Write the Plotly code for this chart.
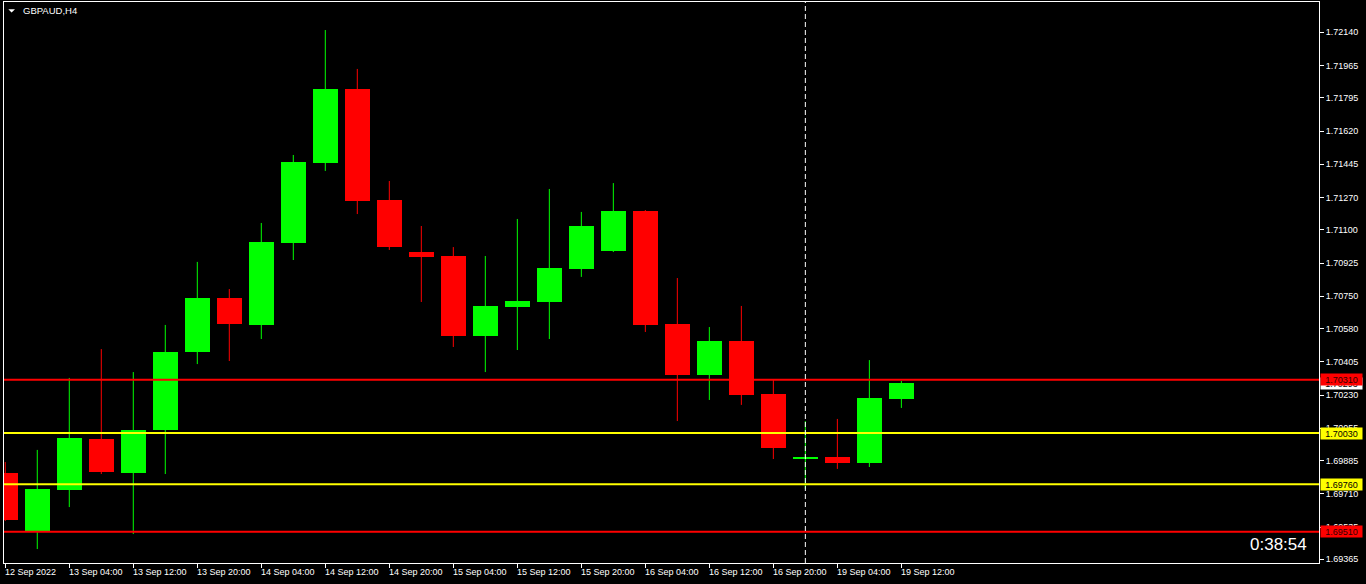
import plotly.graph_objects as go

# ---- data (GBPAUD, H4) ----
bar_idx = list(range(29))
open_ = [1.69819, 1.69514, 1.69730, 1.69998, 1.69819, 1.70046, 1.70457, 1.70741, 1.70599, 1.71031,
         1.71452, 1.71841, 1.71257, 1.70983, 1.70962, 1.70541, 1.70693, 1.70720, 1.70894, 1.70988,
         1.71199, 1.70604, 1.70335, 1.70514, 1.70235, 1.69893, 1.69904, 1.69872, 1.70209]
high = [1.69877, 1.69941, 1.70320, 1.70472, 1.70351, 1.70599, 1.70931, 1.70788, 1.71136, 1.71494,
        1.72152, 1.71947, 1.71357, 1.71120, 1.71009, 1.70962, 1.71157, 1.71315, 1.71194, 1.71346,
        1.71204, 1.70846, 1.70588, 1.70699, 1.70309, 1.70093, 1.70104, 1.70414, 1.70304]
low = [1.69567, 1.69419, 1.69640, 1.69814, 1.69498, 1.69814, 1.70393, 1.70409, 1.70525, 1.70941,
       1.71410, 1.71183, 1.70994, 1.70720, 1.70483, 1.70351, 1.70467, 1.70525, 1.70852, 1.70983,
       1.70562, 1.70093, 1.70204, 1.70178, 1.69893, 1.69735, 1.69841, 1.69851, 1.70162]
close = [1.69572, 1.69735, 1.70004, 1.69825, 1.70046, 1.70457, 1.70741, 1.70604, 1.71036, 1.71457,
         1.71841, 1.71252, 1.71009, 1.70957, 1.70541, 1.70699, 1.70725, 1.70899, 1.71120, 1.71199,
         1.70599, 1.70335, 1.70514, 1.70230, 1.69951, 1.69904, 1.69872, 1.70214, 1.70293]

tick_idx = [0, 2, 4, 6, 8, 10, 12, 14, 16, 18, 20, 22, 24, 26, 28]
tick_labels = ["12 Sep 2022", "13 Sep 04:00", "13 Sep 12:00", "13 Sep 20:00", "14 Sep 04:00",
               "14 Sep 12:00", "14 Sep 20:00", "15 Sep 04:00", "15 Sep 12:00", "15 Sep 20:00",
               "16 Sep 04:00", "16 Sep 12:00", "16 Sep 20:00", "19 Sep 04:00", "19 Sep 12:00"]
y_ticks = [1.72140, 1.71965, 1.71795, 1.71620, 1.71445, 1.71270, 1.71100, 1.70925, 1.70750,
           1.70580, 1.70405, 1.70230, 1.70055, 1.69885, 1.69710, 1.69535, 1.69365]
red_levels = [1.70310, 1.69510]
yellow_levels = [1.70030, 1.69760]
bid_price = 1.70293
symbol = "GBPAUD,H4"
timer_text = "0:38:54"
vline_idx = 25

GREEN = "#00FF00"
RED = "#FF0000"
YELLOW = "#FFFF00"
FONT = "Liberation Sans, Arial, sans-serif"

fig = go.Figure()

# wicks
for col, cond in ((GREEN, lambda o, c: c >= o), (RED, lambda o, c: c < o)):
    wx, wy = [], []
    for i, o, h, l, c in zip(bar_idx, open_, high, low, close):
        if cond(o, c):
            wx += [i, i, None]
            wy += [l, h, None]
    fig.add_trace(go.Scatter(x=wx, y=wy, mode="lines", line=dict(color=col, width=1),
                             hoverinfo="skip", showlegend=False))

# bodies
fig.add_trace(go.Bar(
    x=bar_idx,
    base=[min(o, c) for o, c in zip(open_, close)],
    y=[abs(c - o) for o, c in zip(open_, close)],
    width=0.78,
    marker=dict(color=[GREEN if c >= o else RED for o, c in zip(open_, close)], line=dict(width=0)),
    showlegend=False,
))

shapes = []
for lv in red_levels:
    shapes.append(dict(type="line", xref="paper", x0=0, x1=1, yref="y", y0=lv, y1=lv,
                       line=dict(color=RED, width=2)))
for lv in yellow_levels:
    shapes.append(dict(type="line", xref="paper", x0=0, x1=1, yref="y", y0=lv, y1=lv,
                       line=dict(color=YELLOW, width=2)))
shapes.append(dict(type="line", xref="x", x0=vline_idx, x1=vline_idx, yref="paper", y0=0, y1=1,
                   line=dict(color="white", width=1, dash="5px,3px")))
# small menu triangle near the symbol
shapes.append(dict(type="path", xref="paper", yref="paper", xsizemode="pixel", ysizemode="pixel",
                   xanchor=0, yanchor=1, path="M 4.3,-7.3 L 11,-7.3 L 7.6,-10.5 Z",
                   fillcolor="white", line=dict(width=0)))

annotations = []
for i, t in zip(tick_idx, tick_labels):
    annotations.append(dict(x=i, xref="x", y=0, yref="paper", text=t, showarrow=False,
                            xanchor="left", yanchor="top", xshift=-2, yshift=-2,
                            font=dict(family=FONT, size=9, color="white")))

annotations.append(dict(x=1, xref="paper", y=bid_price, yref="y", text=f"{bid_price:.5f}",
                        showarrow=False, xanchor="left", yanchor="middle", xshift=1,
                        bgcolor="white", font=dict(family=FONT, size=9, color="black"),
                        width=41, height=11, borderpad=0))
for lv in yellow_levels:
    annotations.append(dict(x=1, xref="paper", y=lv, yref="y", text=f"{lv:.5f}",
                            showarrow=False, xanchor="left", yanchor="middle", xshift=1,
                            bgcolor=YELLOW, font=dict(family=FONT, size=9, color="black"),
                            width=41, height=11, borderpad=0))
for lv in red_levels:
    annotations.append(dict(x=1, xref="paper", y=lv, yref="y", text=f"{lv:.5f}",
                            showarrow=False, xanchor="left", yanchor="middle", xshift=1,
                            bgcolor=RED, font=dict(family=FONT, size=9, color="#300000"),
                            width=41, height=11, borderpad=0))

annotations.append(dict(x=0, xref="paper", y=1, yref="paper", text=symbol, showarrow=False,
                        xanchor="left", yanchor="middle", xshift=17, yshift=-8,
                        font=dict(family=FONT, size=9.5, color="white")))
annotations.append(dict(x=1, xref="paper", y=0, yref="paper", text=timer_text, showarrow=False,
                        xanchor="right", yanchor="middle", xshift=-10, yshift=19,
                        font=dict(family=FONT, size=17, color="white")))

fig.update_layout(
    width=1366, height=584,
    margin=dict(l=4, r=47, t=2, b=21, pad=0),
    paper_bgcolor="black", plot_bgcolor="black",
    showlegend=False,
    shapes=shapes, annotations=annotations,
    xaxis=dict(range=[-0.04, 41.05], showgrid=False, zeroline=False,
               showline=True, linecolor="white", linewidth=1, mirror=True,
               tickmode="array", tickvals=tick_idx, ticktext=[""] * len(tick_idx),
               ticks="outside", ticklen=4, tickcolor="white", tickwidth=1,
               showticklabels=False, fixedrange=True),
    yaxis=dict(range=[1.693455, 1.7229955], side="right", showgrid=False, zeroline=False,
               showline=True, linecolor="white", linewidth=1, mirror=True,
               tickmode="array", tickvals=y_ticks, tickformat=".5f",
               ticks="outside", ticklen=4, tickcolor="white", tickwidth=1,
               tickfont=dict(family=FONT, size=9, color="white"), fixedrange=True),
    bargap=0,
)

fig.write_html(
    "out.html",
    config={"displayModeBar": False},
    post_script="document.body.style.margin='0';document.body.style.background='black';"
                "document.body.style.overflow='hidden';",
)
